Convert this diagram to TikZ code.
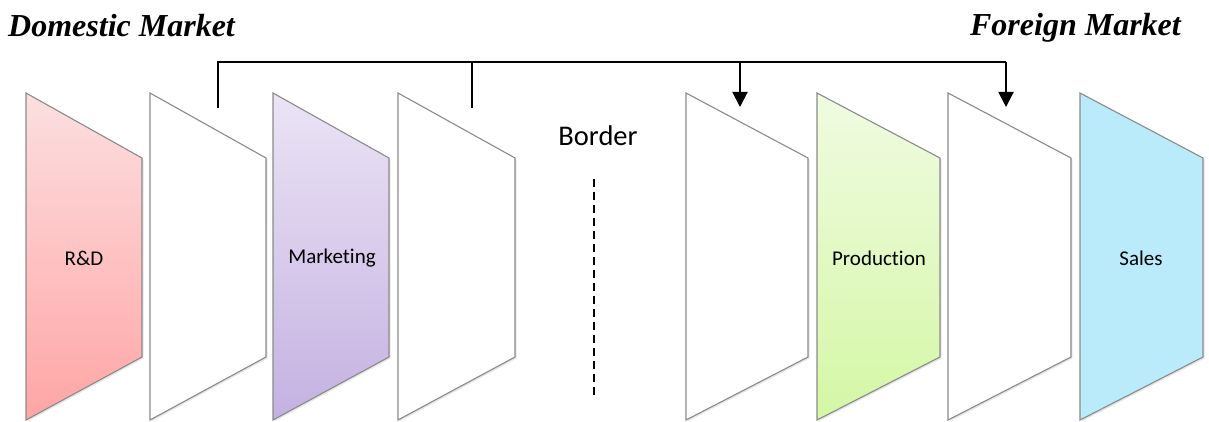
\documentclass[tikz,border=0pt]{standalone}
\usepackage{fontspec}
\setmainfont{Carlito}[Ligatures=NoCommon]
\newfontfamily\titlefont{Liberation Serif}
\usetikzlibrary{arrows.meta,shadows}

\definecolor{rdtop}{HTML}{FCDFE0}
\definecolor{rdbot}{HTML}{FFA5A5}
\definecolor{mktop}{HTML}{EBE4F5}
\definecolor{mkbot}{HTML}{C4B1E1}
\definecolor{prtop}{HTML}{F0FBE1}
\definecolor{prbot}{HTML}{D4F7A5}
\definecolor{sltop}{HTML}{B9EBFA}
\definecolor{edge}{HTML}{8A8A8A}

\tikzset{
  panel/.style={draw=edge,line width=1.1pt,line join=miter,
    drop shadow={shadow xshift=1.5pt,shadow yshift=-1.5pt,opacity=0.2}},
  blank/.style={fill=white},
  stage/.style={font=\fontsize{21}{25}\selectfont,inner sep=0pt},
  market/.style={font=\titlefont\bfseries\itshape\fontsize{32}{37}\selectfont,inner sep=0pt},
  link/.style={line width=2pt},
  linkarrow/.style={line width=2pt,-{Triangle[length=15pt,width=15pt]}}
}

% left x, width, fill
\newcommand{\stagepanel}[3]{%
  \draw[panel,#3] (#1,1) -- (#1,328) -- ({#1+#2},263) -- ({#1+#2},64) -- cycle;}

\begin{document}
\begin{tikzpicture}[x=1pt,y=1pt]
        \useasboundingbox (0,0) rectangle (1209,421);

        % domestic side
        \stagepanel{26}{116}{top color=rdtop,bottom color=rdbot}
        \stagepanel{150}{116}{blank}
        \stagepanel{273}{116}{top color=mktop,bottom color=mkbot}
        \stagepanel{398}{117}{blank}

        % foreign side
        \stagepanel{686}{122}{blank}
        \stagepanel{817}{123}{top color=prtop,bottom color=prbot}
        \stagepanel{948}{123}{blank}
        \stagepanel{1080}{123}{fill=sltop}

        \node[stage] (rd) at (84,163) {R\&D};
        \node[stage] (mk) at (332,163) {Marketing};
        \node[stage] (pr) at (879,163) {Production};
        \node[stage] (sl) at (1141,163) {Sales};

        \node[market,anchor=base west] (dom) at (8,384) {Domestic Market};
        \node[market,anchor=base east] (for) at (1181,385) {Foreign Market};

        % border
        \node[font=\fontsize{28.5}{33}\selectfont,inner sep=0pt] (border) at (598,285) {Border};
        \coordinate (b1) at (594,242);
        \coordinate (b2) at (594,26);
        \draw[line width=1.8pt,dash pattern=on 8pt off 5pt] (b1) -- (b2);

        % offshoring links
        \coordinate (d1) at (218,313);
        \coordinate (d2) at (472,313);
        \coordinate (f1) at (740,314);
        \coordinate (f2) at (1006,314);
        \coordinate (bus) at (0,359);

        \draw[link] (d1) -- (d1 |- bus) -- (f2 |- bus);
        \draw[link] (d2) -- (d2 |- bus);
        \draw[linkarrow] (f1 |- bus) -- (f1);
        \draw[linkarrow] (f2 |- bus) -- (f2);
    \end{tikzpicture}
\end{document}
